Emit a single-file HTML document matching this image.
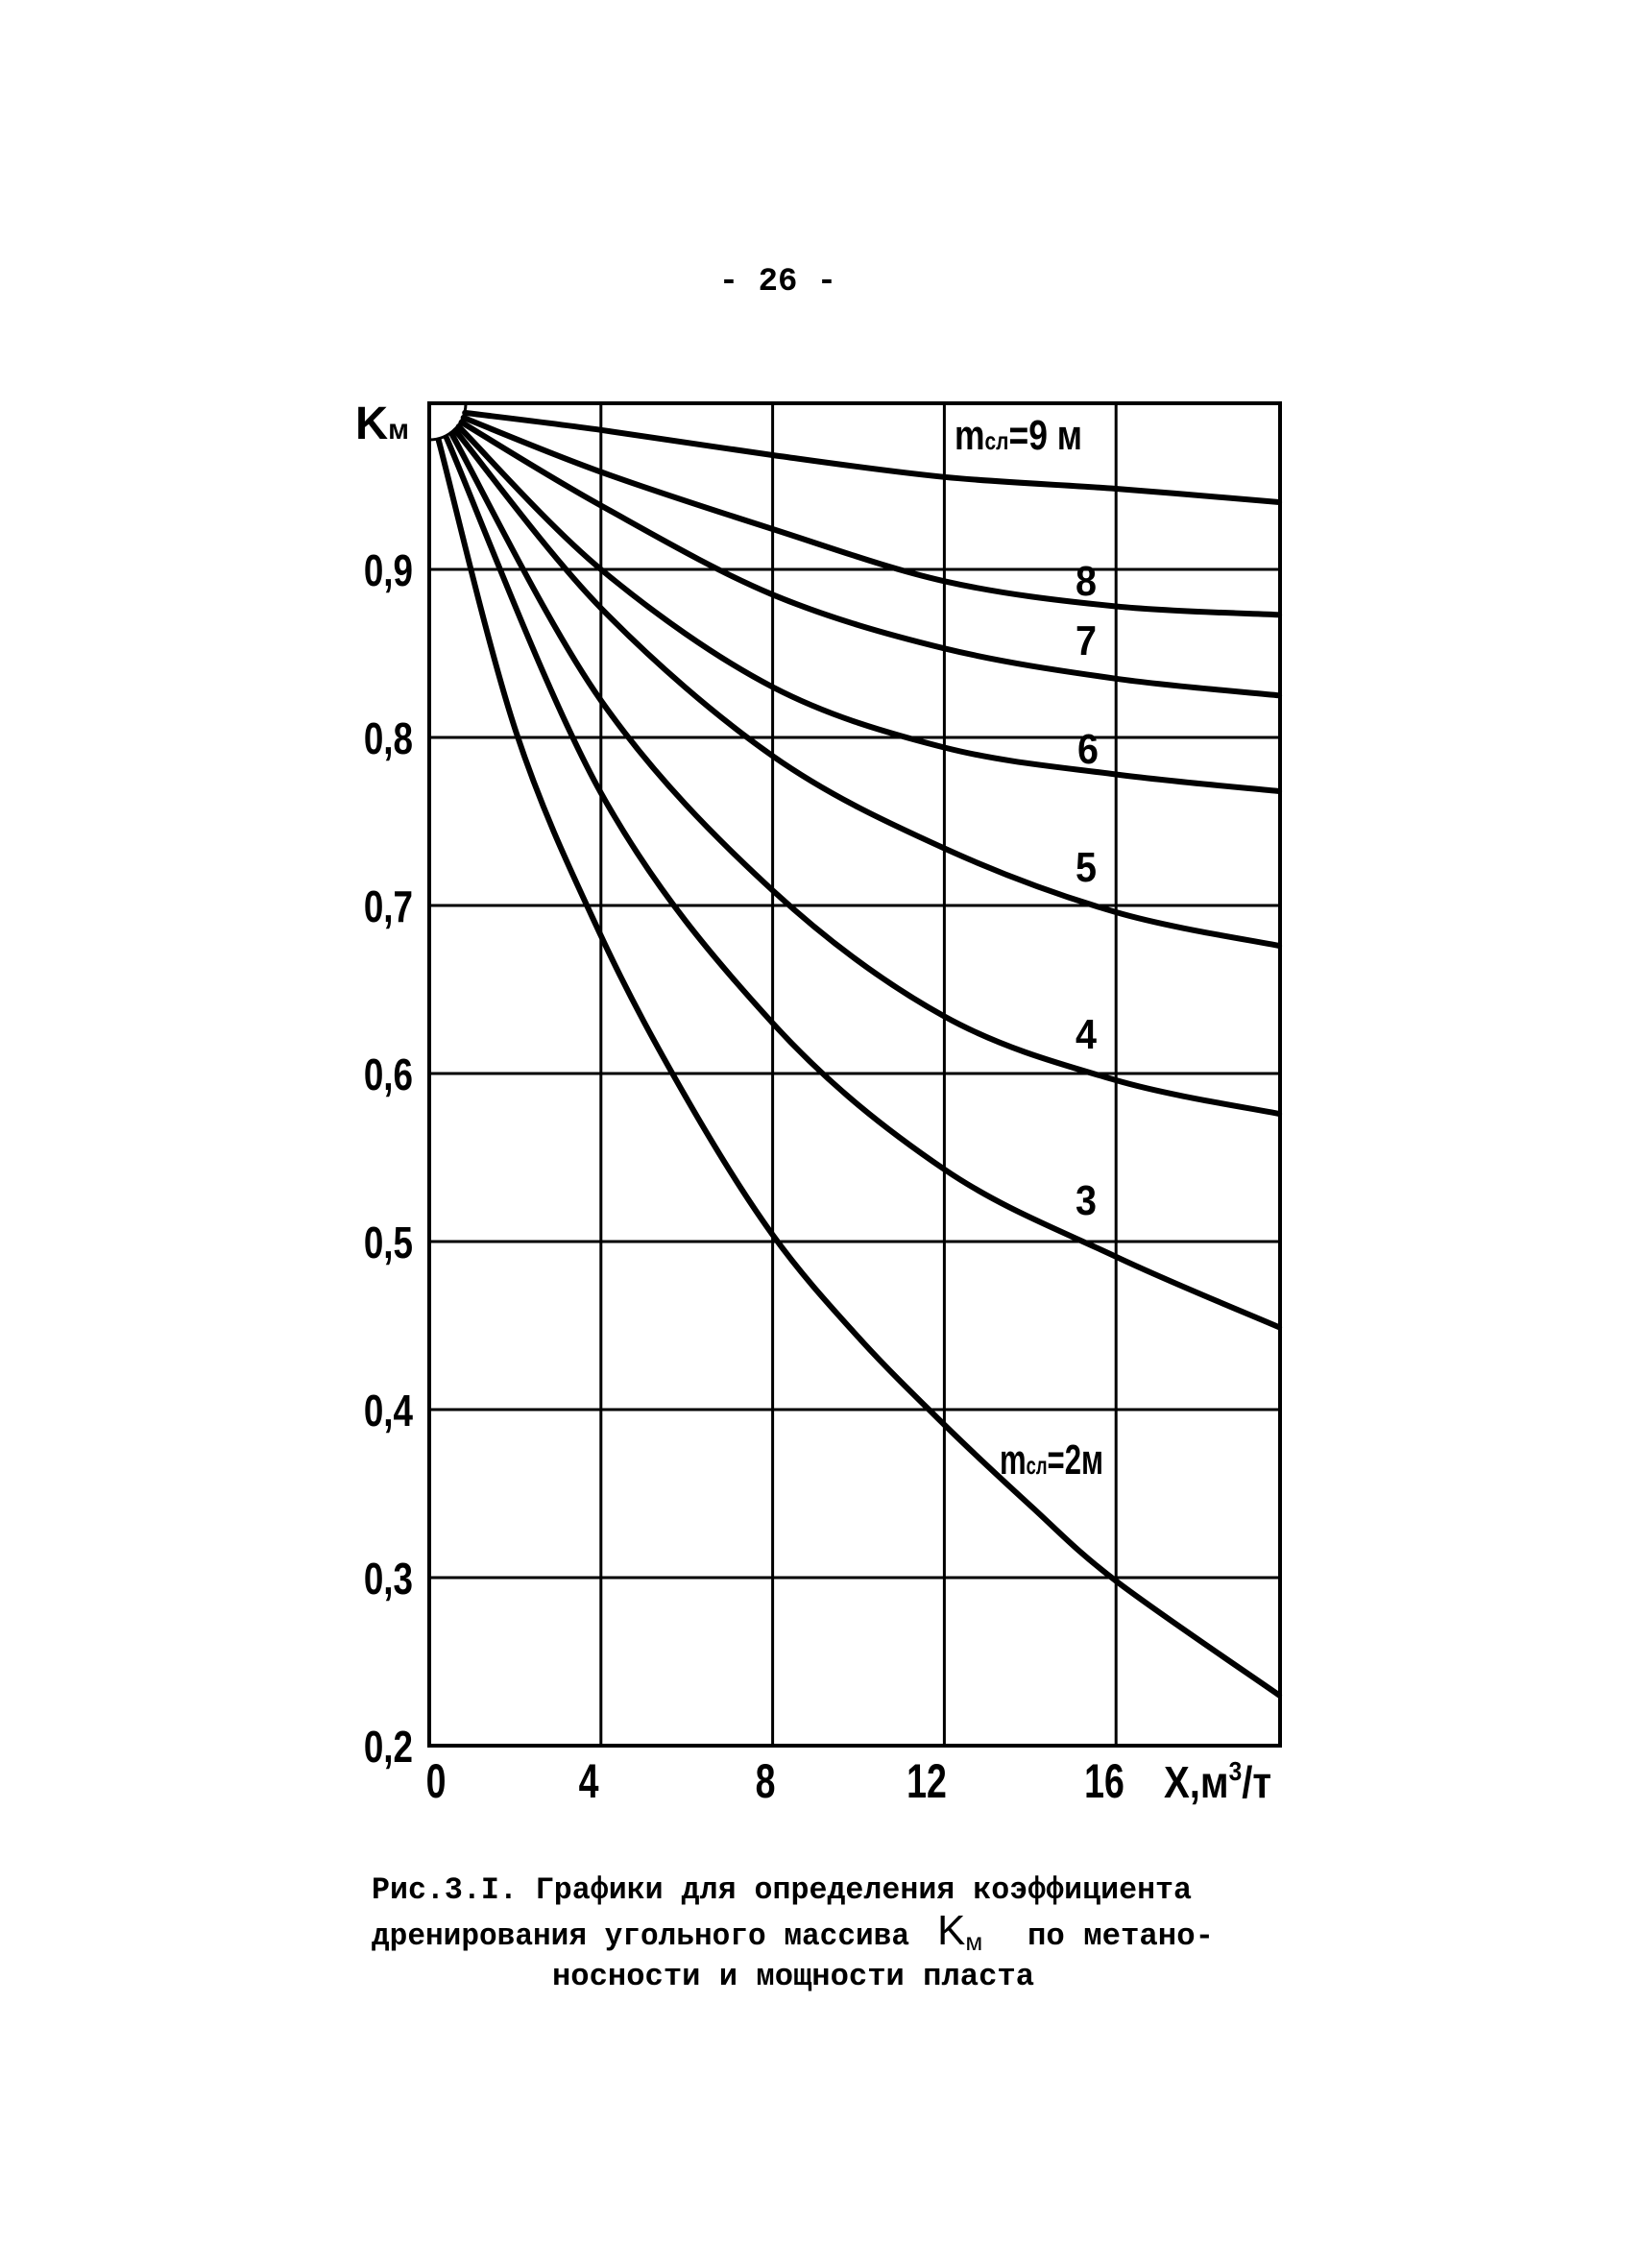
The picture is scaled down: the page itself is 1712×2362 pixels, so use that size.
<!DOCTYPE html>
<html><head><meta charset="utf-8"><style>
html,body{margin:0;padding:0;background:#fff;}
svg{display:block;}
.t{font-family:"Liberation Sans",sans-serif;fill:#000;font-weight:bold;}
.m{font-family:"Liberation Mono",monospace;fill:#000;font-weight:bold;}
</style></head><body>
<svg id="s" width="1712" height="2362" viewBox="0 0 1712 2362" xmlns="http://www.w3.org/2000/svg">
<rect width="1712" height="2362" fill="#fff"/>
<text class="m" x="810" y="302" font-size="34" text-anchor="middle">- 26 -</text>
<g id="grid" stroke="#000" stroke-width="3" fill="none"></g>
<rect x="447" y="420" width="886" height="1398" fill="none" stroke="#000" stroke-width="4"/>
<path d="M447,458 A38,38 0 0 0 485,421" fill="none" stroke="#000" stroke-width="3"/>
<g id="curves" stroke="#000" stroke-width="6" fill="none" stroke-linecap="round"></g>
<g class="t" font-size="46">
<text x="430" y="610" text-anchor="end" transform="translate(430,0) scale(0.8,1) translate(-430,0)">0,9</text>
<text x="430" y="785" text-anchor="end" transform="translate(430,0) scale(0.8,1) translate(-430,0)">0,8</text>
<text x="430" y="960" text-anchor="end" transform="translate(430,0) scale(0.8,1) translate(-430,0)">0,7</text>
<text x="430" y="1135" text-anchor="end" transform="translate(430,0) scale(0.8,1) translate(-430,0)">0,6</text>
<text x="430" y="1310" text-anchor="end" transform="translate(430,0) scale(0.8,1) translate(-430,0)">0,5</text>
<text x="430" y="1485" text-anchor="end" transform="translate(430,0) scale(0.8,1) translate(-430,0)">0,4</text>
<text x="430" y="1660" text-anchor="end" transform="translate(430,0) scale(0.8,1) translate(-430,0)">0,3</text>
<text x="430" y="1835" text-anchor="end" transform="translate(430,0) scale(0.8,1) translate(-430,0)">0,2</text>
</g>
<g class="t" font-size="50" text-anchor="middle">
<text x="454" y="1872" transform="translate(454,0) scale(0.75,1) translate(-454,0)">0</text>
<text x="613" y="1872" transform="translate(613,0) scale(0.75,1) translate(-613,0)">4</text>
<text x="797" y="1872" transform="translate(797,0) scale(0.75,1) translate(-797,0)">8</text>
<text x="965" y="1872" transform="translate(965,0) scale(0.75,1) translate(-965,0)">12</text>
<text x="1150" y="1872" transform="translate(1150,0) scale(0.75,1) translate(-1150,0)">16</text>
</g>
<text class="t" x="1212" y="1872" font-size="46" textLength="112" lengthAdjust="spacingAndGlyphs">X,м<tspan font-size="28" dy="-18">3</tspan><tspan dy="18">/т</tspan></text>
<text class="t" x="370" y="457" font-size="48" textLength="56" lengthAdjust="spacingAndGlyphs">K<tspan font-size="30">м</tspan></text>
<g class="t" font-size="44">
<text x="994" y="468" textLength="133" lengthAdjust="spacingAndGlyphs">m<tspan font-size="26">сл</tspan>=9 м</text>
<text x="1120" y="620" textLength="22" lengthAdjust="spacingAndGlyphs">8</text>
<text x="1120" y="682" textLength="22" lengthAdjust="spacingAndGlyphs">7</text>
<text x="1122" y="795" textLength="22" lengthAdjust="spacingAndGlyphs">6</text>
<text x="1120" y="918" textLength="22" lengthAdjust="spacingAndGlyphs">5</text>
<text x="1120" y="1092" textLength="22" lengthAdjust="spacingAndGlyphs">4</text>
<text x="1120" y="1265" textLength="22" lengthAdjust="spacingAndGlyphs">3</text>
<text x="1041" y="1535" textLength="108" lengthAdjust="spacingAndGlyphs">m<tspan font-size="26">сл</tspan>=2м</text>
</g>
<g class="m" font-size="32">
<text x="387" y="1977" textLength="854" lengthAdjust="spacingAndGlyphs">Рис.3.I. Графики для определения коэффициента</text>
<text x="387" y="2025" textLength="560" lengthAdjust="spacingAndGlyphs">дренирования угольного массива</text>
<text x="976" y="2025" font-size="44" font-family="Liberation Sans,sans-serif" font-weight="normal">K<tspan font-size="26" dy="6">м</tspan></text>
<text x="1070" y="2025" textLength="194" lengthAdjust="spacingAndGlyphs">по метано-</text>
<text x="575" y="2067" textLength="502" lengthAdjust="spacingAndGlyphs">носности и мощности пласта</text>
</g>
</svg>
<script>
var NS="http://www.w3.org/2000/svg";
function px(x){return 447+x*44.7;}
function py(k){return 593+(0.9-k)*1750;}
var g=document.getElementById("grid");
[4,8,12,16].forEach(function(x){var l=document.createElementNS(NS,"line");l.setAttribute("x1",px(x));l.setAttribute("x2",px(x));l.setAttribute("y1",420);l.setAttribute("y2",1818);g.appendChild(l);});
[0.9,0.8,0.7,0.6,0.5,0.4,0.3].forEach(function(k){var l=document.createElementNS(NS,"line");l.setAttribute("x1",447);l.setAttribute("x2",1333);l.setAttribute("y1",py(k));l.setAttribute("y2",py(k));g.appendChild(l);});
var C=[
[12,[[4,0.983],[8,0.968],[12,0.955],[16,0.948],[19.8,0.940]]],
[20,[[4,0.958],[8,0.924],[12,0.893],[16,0.878],[19.8,0.873]]],
[28,[[4,0.938],[8,0.885],[12,0.853],[16,0.835],[19.8,0.825]]],
[36,[[4,0.900],[8,0.830],[12,0.794],[16,0.778],[19.8,0.768]]],
[44,[[4,0.877],[8,0.789],[12,0.734],[16,0.696],[19.8,0.676]]],
[52,[[4,0.822],[8,0.709],[12,0.634],[16,0.596],[19.8,0.576]]],
[62,[[4,0.767],[8,0.630],[12,0.543],[16,0.491],[19.8,0.449]]],
[75,[[2,0.805],[4,0.682],[6,0.585],[8,0.504],[10,0.443],[12,0.391],[14,0.343],[16,0.298],[19.8,0.230]]]
];
var cg=document.getElementById("curves");
C.forEach(function(c){
 var a=c[0]*Math.PI/180;
 var P=[[447+38*Math.cos(a),422+38*Math.sin(a)]];
 c[1].forEach(function(p){P.push([px(p[0]),py(p[1])]);});
 var d="M"+P[0][0].toFixed(1)+","+P[0][1].toFixed(1);
 for(var i=0;i<P.length-1;i++){
  var p0=P[i-1]||P[i],p1=P[i],p2=P[i+1],p3=P[i+2]||P[i+1];
  var c1=[p1[0]+(p2[0]-p0[0])/6,p1[1]+(p2[1]-p0[1])/6];
  var c2=[p2[0]-(p3[0]-p1[0])/6,p2[1]-(p3[1]-p1[1])/6];
  d+=" C"+c1[0].toFixed(1)+","+c1[1].toFixed(1)+" "+c2[0].toFixed(1)+","+c2[1].toFixed(1)+" "+p2[0].toFixed(1)+","+p2[1].toFixed(1);
 }
 var p=document.createElementNS(NS,"path");p.setAttribute("d",d);cg.appendChild(p);
});
</script>
</body></html>
